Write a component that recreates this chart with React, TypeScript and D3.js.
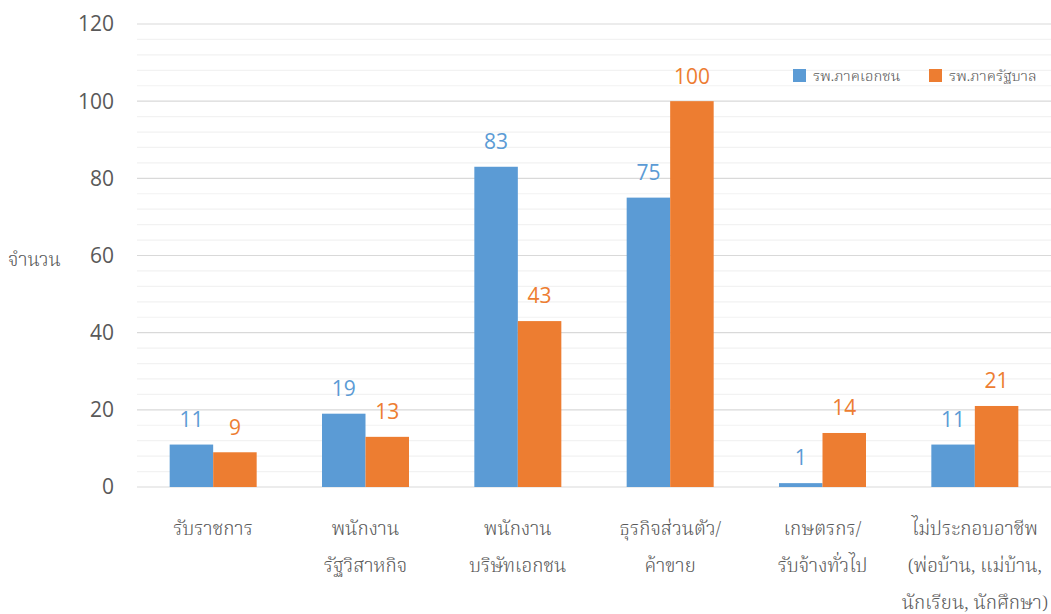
import React from "react";
import * as d3 from "d3";

const categories: string[][] = [
  ["รับราชการ"],
  ["พนักงาน", "รัฐวิสาหกิจ"],
  ["พนักงาน", "บริษัทเอกชน"],
  ["ธุรกิจส่วนตัว/", "ค้าขาย"],
  ["เกษตรกร/", "รับจ้างทั่วไป"],
  ["ไม่ประกอบอาชีพ", "(พ่อบ้าน, แม่บ้าน,", "นักเรียน, นักศึกษา)"],
];
const privateValues = [11, 19, 83, 75, 1, 11];
const publicValues = [9, 13, 43, 100, 14, 21];
const seriesNames = ["รพ.ภาคเอกชน", "รพ.ภาครัฐบาล"];
const colors = ["#5b9bd5", "#ed7d31"];
const majorTicks = [0, 20, 40, 60, 80, 100, 120];
const minorTicks = d3.range(0, 121, 4);

export default function App() {
  const W = 1051, H = 614;
  const left = 137, right = 1051, top = 24, bottom = 487;
  const x = d3.scaleBand<number>().domain(d3.range(categories.length)).range([left, right]).paddingInner(0).paddingOuter(0);
  const y = d3.scaleLinear().domain([0, 120]).range([bottom, top]);
  const bw = 43.5;
  const numFont = "'Open Sans', sans-serif";
  const thaiFont = "Kinnari, Norasi, 'Noto Serif Thai', serif";
  return (
    <svg width={W} height={H} style={{ position: "absolute", left: 0, top: 0, background: "#fff" }}>
      {minorTicks.filter((t) => t % 20 !== 0).map((t) => (
        <line key={"m" + t} x1={left} x2={right} y1={y(t)} y2={y(t)} stroke="#f2f2f2" strokeWidth={1.2} />
      ))}
      {majorTicks.map((t) => (
        <line key={"M" + t} x1={left} x2={right} y1={y(t)} y2={y(t)} stroke="#d9d9d9" strokeWidth={1.2} />
      ))}
      {majorTicks.map((t) => (
        <text key={"t" + t} x={114} y={y(t)} dy="0.35em" textAnchor="end" fontFamily={numFont} fontSize={21} fill="#595959">
          {t}
        </text>
      ))}
      <text x={8} y={259} dy="0.35em" fontFamily={thaiFont} fontSize={19} fontWeight={300} fill="#595959">จำนวน</text>
      {categories.map((c, i) => {
        const cx = (x(i) as number) + x.bandwidth() / 2;
        const vals = [privateValues[i], publicValues[i]];
        return (
          <g key={i}>
            {vals.map((v, s) => {
              const bx = s === 0 ? cx - bw : cx;
              return (
                <g key={s}>
                  <rect x={bx} y={y(v)} width={bw} height={y(0) - y(v)} fill={colors[s]} />
                  <text x={bx + bw / 2} y={y(v) - 25} dy="0.35em" textAnchor="middle" fontFamily={numFont} fontSize={21} fill={colors[s]}>
                    {v}
                  </text>
                </g>
              );
            })}
            {c.map((line, k) => (
              <text key={k} x={cx} y={528 + k * 37} dy="0.35em" textAnchor="middle" fontFamily={thaiFont} fontSize={19} fontWeight={300} fill="#595959">
                {line}
              </text>
            ))}
          </g>
        );
      })}
      {seriesNames.map((n, s) => (
        <g key={n} transform={`translate(${793 + s * 136},69)`}>
          <rect x={0} y={0} width={13} height={13} fill={colors[s]} />
          <text x={20} y={7} dy="0.35em" fontFamily={thaiFont} fontSize={15} fontWeight={300} fill="#595959">{n}</text>
        </g>
      ))}
    </svg>
  );
}
